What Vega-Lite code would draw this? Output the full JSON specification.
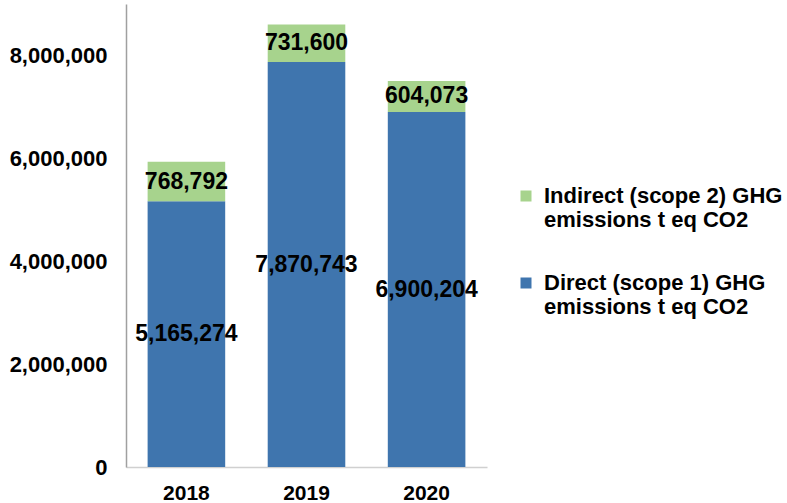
{
  "$schema": "https://vega.github.io/schema/vega-lite/v6.json",
  "width": 361,
  "height": 463,
  "autosize": "none",
  "padding": {"left": 126, "top": 4, "right": 300, "bottom": 36},
  "background": "white",
  "config": {"view": {"stroke": null}, "font": "Liberation Sans"},
  "data": {
    "values": [
      {"year": "2018", "series": "Direct (scope 1) GHG emissions t eq CO2", "value": 5165274},
      {"year": "2018", "series": "Indirect (scope 2) GHG emissions t eq CO2", "value": 768792},
      {"year": "2019", "series": "Direct (scope 1) GHG emissions t eq CO2", "value": 7870743},
      {"year": "2019", "series": "Indirect (scope 2) GHG emissions t eq CO2", "value": 731600},
      {"year": "2020", "series": "Direct (scope 1) GHG emissions t eq CO2", "value": 6900204},
      {"year": "2020", "series": "Indirect (scope 2) GHG emissions t eq CO2", "value": 604073}
    ]
  },
  "transform": [
    {"stack": "value", "groupby": ["year"], "sort": [{"field": "series", "order": "ascending"}], "as": ["v0", "v1"]},
    {"calculate": "(datum.v0 + datum.v1) / 2", "as": "mid"}
  ],
  "layer": [
    {
      "mark": {"type": "bar"},
      "encoding": {
        "x": {
          "field": "year", "type": "ordinal",
          "scale": {"paddingInner": 0.354, "paddingOuter": 0.18},
          "axis": {"title": null, "labelAngle": 0, "labelFontSize": 21, "labelFontWeight": "bold", "labelColor": "black", "labelFont": "Liberation Sans", "ticks": false, "tickSize": 0, "labelPadding": 15, "domainColor": "#d0d0d0", "domainWidth": 1.5, "grid": false}
        },
        "y": {
          "field": "v0", "type": "quantitative",
          "scale": {"domain": [0, 9000000], "nice": false},
          "axis": {"title": null, "values": [0, 2000000, 4000000, 6000000, 8000000], "format": ",d", "labelFontSize": 22, "labelFontWeight": "bold", "labelColor": "black", "labelFont": "Liberation Sans", "ticks": false, "tickSize": 0, "labelPadding": 19, "domainColor": "#a0a0a0", "domainWidth": 1.5, "grid": false}
        },
        "y2": {"field": "v1"},
        "color": {
          "field": "series", "type": "nominal",
          "scale": {"domain": ["Indirect (scope 2) GHG emissions t eq CO2", "Direct (scope 1) GHG emissions t eq CO2"], "range": ["#A7D38D", "#3F75AE"]},
          "legend": {
            "title": null, "orient": "none", "legendX": 389, "legendY": 181, "padding": 0,
            "symbolType": "square", "symbolSize": 121, "symbolStrokeWidth": 0,
            "labelFontSize": 22, "labelFontWeight": "bold", "labelColor": "black", "labelFont": "Liberation Sans",
            "labelLimit": 400, "labelOffset": 7, "rowPadding": 41,
            "labelExpr": "indexof(datum.label, 'Indirect') == 0 ? ['Indirect (scope 2) GHG', 'emissions t eq CO2'] : ['Direct (scope 1) GHG', 'emissions t eq CO2']"
          }
        }
      }
    },
    {
      "mark": {"type": "text", "fontSize": 23, "fontWeight": "bold", "color": "black", "font": "Liberation Sans"},
      "encoding": {
        "x": {
          "field": "year", "type": "ordinal",
          "axis": {"title": null, "labelAngle": 0, "labelFontSize": 21, "labelFontWeight": "bold", "labelColor": "black", "labelFont": "Liberation Sans", "ticks": false, "tickSize": 0, "labelPadding": 15, "domainColor": "#d0d0d0", "domainWidth": 1.5, "grid": false}
        },
        "y": {
          "field": "mid", "type": "quantitative",
          "axis": {"title": null, "values": [0, 2000000, 4000000, 6000000, 8000000], "format": ",d", "labelFontSize": 22, "labelFontWeight": "bold", "labelColor": "black", "labelFont": "Liberation Sans", "ticks": false, "tickSize": 0, "labelPadding": 19, "domainColor": "#a0a0a0", "domainWidth": 1.5, "grid": false}
        },
        "text": {"field": "value", "type": "quantitative", "format": ","}
      }
    }
  ]
}
